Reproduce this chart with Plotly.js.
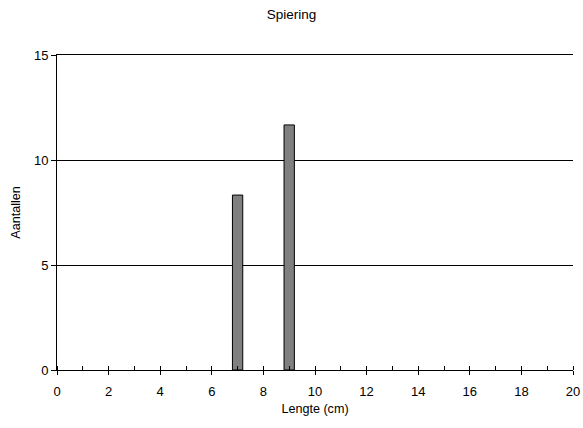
<!DOCTYPE html>
<html>
<head>
<meta charset="utf-8">
<script src="https://cdn.plot.ly/plotly-3.0.1.min.js"></script>
<style>html,body{margin:0;padding:0;background:#fff;}#chart{width:583px;height:428px;}</style>
</head>
<body>
<div id="chart"></div>
<script>
const lengths = [7, 9];
const counts = [8.33, 11.67];
const xTickVals = [0, 2, 4, 6, 8, 10, 12, 14, 16, 18, 20];
const yTickVals = [0, 5, 10, 15];

const fam = 'Liberation Sans, Arial, sans-serif';

const trace = {
  type: 'bar',
  x: lengths,
  y: counts,
  width: 0.4,
  marker: {color: '#808080', line: {color: '#000', width: 1}},
  hoverinfo: 'x+y'
};

const layout = {
  width: 583, height: 428,
  margin: {l: 57, r: 10, t: 55, b: 58},
  paper_bgcolor: '#fff', plot_bgcolor: '#fff',
  font: {family: fam, size: 13, color: '#000'},
  showlegend: false,
  title: {text: 'Spiering', font: {family: fam, size: 13.5, color: '#000'}, x: 0.5, xanchor: 'center', y: 0.978, yanchor: 'top'},
  xaxis: {
    range: [0, 20], tickvals: xTickVals, ticks: 'outside', ticklen: 4, tickcolor: '#000',
    ticklabelstandoff: 5,
    showline: true, mirror: true, linecolor: '#000', linewidth: 1, showgrid: false, zeroline: false,
    tickfont: {family: fam, size: 13, color: '#000'},
    minor: {dtick: 1, ticks: 'inside', ticklen: 4, tickcolor: '#000', showgrid: false},
    title: {text: 'Lengte (cm)', font: {family: fam, size: 12.6, color: '#000'}, standoff: 6}
  },
  yaxis: {
    range: [0, 15], tickvals: yTickVals, ticks: 'outside', ticklen: 5, tickcolor: '#000',
    showline: true, linecolor: '#000', linewidth: 1, showgrid: true, gridcolor: '#000', gridwidth: 1,
    zeroline: false,
    tickfont: {family: fam, size: 13, color: '#000'},
    title: {text: 'Aantallen', font: {family: fam, size: 12.6, color: '#000'}, standoff: 10}
  }
};

Plotly.newPlot('chart', [trace], layout, {displayModeBar: false, staticPlot: true});
</script>
</body>
</html>
